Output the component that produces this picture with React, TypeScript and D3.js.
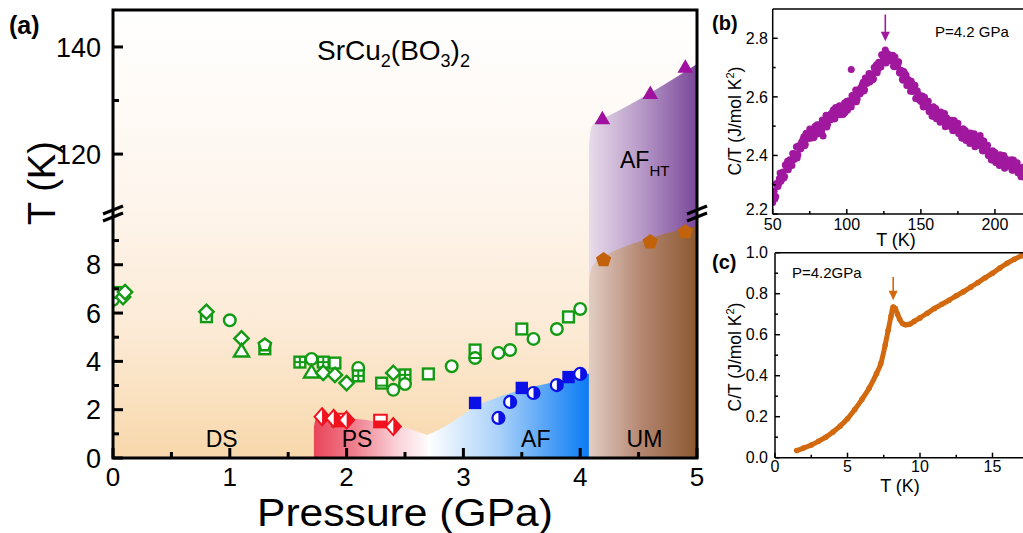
import React from "react";
import * as d3 from "d3";

const FONT = '"Liberation Sans", Arial, Helvetica, sans-serif';

// ================= Panel (a): phase diagram =================
const pressureTicks = [0, 1, 2, 3, 4, 5];
const pressureMinorTicks = [0.5, 1.5, 2.5, 3.5, 4.5];
const lowTTicks = [0, 2, 4, 6, 8];
const lowTMinorTicks = [1, 3, 5, 7, 9];
const highTTicks = [120, 140];
const highTMinorTicks = [130];

// open green symbols
const greenP = [0.0, 0.02, 0.086, 0.103, 0.8, 0.8, 1.0, 1.1, 1.1, 1.3, 1.3, 1.6, 1.7, 1.7, 1.8, 1.9, 1.8, 1.9, 2.0, 2.1, 2.1, 2.3, 2.4, 2.5, 2.4, 2.5, 2.7, 2.9, 3.1, 3.1, 3.3, 3.4, 3.5, 3.6, 3.8, 3.9, 4.0];
const greenT = [6.55, 6.85, 6.66, 6.87, 5.85, 6.05, 5.7, 4.95, 4.43, 4.52, 4.68, 3.97, 4.1, 3.56, 3.97, 3.93, 3.52, 3.44, 3.1, 3.73, 3.4, 3.1, 3.52, 3.44, 2.82, 3.06, 3.48, 3.8, 4.47, 4.14, 4.35, 4.47, 5.34, 4.93, 5.34, 5.84, 6.17];
const greenShape = ["circle", "square", "diamond", "diamond", "square", "diamond", "circle", "diamond", "triangle", "square", "pentagon", "gridsquare", "circle", "triangle", "gridsquare", "square", "diamond", "diamond", "diamond", "circle", "gridsquare", "hsquare", "diamond", "gridsquare", "circle", "circle", "square", "circle", "square", "hcircle", "circle", "circle", "square", "circle", "circle", "square", "circle"];

// blue AF symbols
const blueP = [3.1, 3.3, 3.4, 3.5, 3.6, 3.8, 3.9, 4.0];
const blueT = [2.28, 1.66, 2.32, 2.9, 2.69, 3.02, 3.35, 3.48];
const blueShape = ["square", "halfcircle", "halfcircle", "square", "halfcircle", "halfcircle", "square", "halfcircle"];

// red PS symbols
const redP = [1.93, 1.79, 1.89, 2.0, 2.29, 2.4];
const redT = [1.57, 1.71, 1.64, 1.57, 1.53, 1.3];
const redShape = ["halfsquare", "halfdiamond", "halfdiamond", "halfdiamond", "halfsquare", "halfdiamond"];

// AF_HT (purple triangles, upper T scale) and UM (orange pentagons, lower T scale)
const purpleP = [4.19, 4.6, 4.9];
const purpleT = [126.7, 131.4, 136.3];
const orangeP = [4.2, 4.6, 4.9];
const orangeT = [8.2, 8.94, 9.36];

// phase boundaries
const psTopP = [1.72, 1.735, 1.78, 2.17, 2.46, 2.69];
const psTopT = [1.25, 1.6, 1.72, 1.57, 1.3, 0.95];
const afTopP = [2.69, 2.78, 2.885, 3.0, 3.085, 3.25, 3.48, 3.75, 4.0, 4.075];
const afTopT = [0.95, 1.15, 1.43, 1.8, 2.08, 2.43, 2.8, 3.12, 3.37, 3.5];
const umTopP = [4.075, 4.09, 4.13, 4.2, 4.6, 5.0];
const umTopT = [7.2, 7.75, 8.1, 8.33, 9.1, 9.6];
const afhtTopP = [4.075, 4.09, 4.13, 4.2, 4.6, 5.0];
const afhtTopT = [121.5, 124.5, 126.0, 126.7, 131.4, 136.8];

const regionLabels = ["DS", "PS", "AF", "UM"];
const regionLabelP = [0.93, 2.09, 3.62, 4.55];
const regionLabelT = [0.45, 0.45, 0.45, 0.45];

// ================= Panel (b): C/T vs T at 4.2 GPa (high T) =================
const bTicks = [50, 100, 150, 200];
const bMinorTicks = [75, 125, 175];
const bYTicks = [2.2, 2.4, 2.6, 2.8];
const bYMinorTicks = [2.3, 2.5, 2.7];
// T = 50, 51, ... 220 K
const bValuesA = [
  2.239, 2.278, 2.260, 2.299, 2.303, 2.340, 2.318, 2.343, 2.328, 2.369,
  2.380, 2.362, 2.383, 2.366, 2.405, 2.397, 2.430, 2.402, 2.431, 2.424,
  2.434, 2.464, 2.437, 2.467, 2.462, 2.490, 2.463, 2.483, 2.463, 2.499,
  2.505, 2.484, 2.502, 2.482, 2.518, 2.507, 2.537, 2.506, 2.532, 2.522,
  2.529, 2.556, 2.526, 2.553, 2.545, 2.570, 2.543, 2.563, 2.543, 2.579,
  2.585, 2.565, 2.584, 2.565, 2.602, 2.592, 2.623, 2.593, 2.620, 2.611,
  2.619, 2.650, 2.624, 2.655, 2.651, 2.680, 2.656, 2.679, 2.662, 2.701,
  2.710, 2.694, 2.717, 2.702, 2.743, 2.737, 2.760, 2.722, 2.741, 2.724,
  2.724, 2.742, 2.703, 2.721, 2.704, 2.720, 2.681, 2.689, 2.657, 2.681,
  2.675, 2.643, 2.650, 2.619, 2.644, 2.622, 2.640, 2.597, 2.611, 2.589,
  2.584, 2.603, 2.565, 2.584, 2.568, 2.585, 2.550, 2.562, 2.534, 2.562,
  2.560, 2.531, 2.541, 2.513, 2.541, 2.522, 2.543, 2.503, 2.520, 2.501,
  2.499, 2.520, 2.484, 2.505, 2.491, 2.510, 2.475, 2.487, 2.459, 2.487,
  2.485, 2.457, 2.468, 2.441, 2.470, 2.452, 2.474, 2.435, 2.453, 2.435,
  2.434, 2.453, 2.415, 2.434, 2.418, 2.435, 2.400, 2.412, 2.384, 2.412,
  2.410, 2.382, 2.393, 2.366, 2.395, 2.377, 2.400, 2.362, 2.381, 2.364,
  2.364, 2.385, 2.349, 2.370, 2.356, 2.375, 2.341, 2.354, 2.327, 2.356,
  2.355,
];
// T = 50.5, 51.5, ... 219.5 K
const bValuesB = [
  2.265, 2.252, 2.304, 2.294, 2.321, 2.312, 2.337, 2.323, 2.367, 2.354,
  2.351, 2.385, 2.378, 2.407, 2.386, 2.406, 2.391, 2.433, 2.422, 2.446,
  2.455, 2.433, 2.476, 2.457, 2.475, 2.459, 2.479, 2.460, 2.499, 2.481,
  2.474, 2.505, 2.495, 2.521, 2.497, 2.515, 2.497, 2.536, 2.522, 2.543,
  2.549, 2.524, 2.564, 2.542, 2.557, 2.539, 2.559, 2.540, 2.579, 2.561,
  2.555, 2.587, 2.578, 2.605, 2.582, 2.600, 2.583, 2.623, 2.610, 2.632,
  2.641, 2.620, 2.664, 2.646, 2.665, 2.651, 2.674, 2.658, 2.700, 2.685,
  2.682, 2.718, 2.713, 2.744, 2.725, 2.741, 2.716, 2.748, 2.727, 2.741,
  2.739, 2.705, 2.736, 2.705, 2.711, 2.683, 2.691, 2.660, 2.687, 2.657,
  2.639, 2.659, 2.638, 2.653, 2.618, 2.624, 2.594, 2.621, 2.595, 2.604,
  2.600, 2.567, 2.599, 2.569, 2.576, 2.550, 2.562, 2.535, 2.566, 2.540,
  2.525, 2.548, 2.530, 2.548, 2.516, 2.525, 2.498, 2.528, 2.505, 2.517,
  2.516, 2.485, 2.519, 2.491, 2.500, 2.475, 2.487, 2.460, 2.491, 2.465,
  2.451, 2.475, 2.458, 2.477, 2.446, 2.456, 2.430, 2.461, 2.439, 2.452,
  2.450, 2.417, 2.449, 2.419, 2.426, 2.400, 2.412, 2.385, 2.416, 2.390,
  2.376, 2.400, 2.383, 2.402, 2.371, 2.381, 2.356, 2.388, 2.367, 2.381,
  2.381, 2.350, 2.384, 2.356, 2.365, 2.341, 2.354, 2.328, 2.360, 2.335,
];
const bOutlierT = [103, 99, 84, 190];
const bOutlierV = [2.693, 2.548, 2.466, 2.468];
const bPeakT = 126;

// ================= Panel (c): C/T vs T at 4.2 GPa (low T) =================
const cTicks = [0, 5, 10, 15];
const cMinorTicks = [2.5, 7.5, 12.5, 17.5];
const cYTicks = [0.0, 0.2, 0.4, 0.6, 0.8, 1.0];
const cYMinorTicks = [0.1, 0.3, 0.5, 0.7, 0.9];
const cTemps = [1.5, 2.0, 2.5, 3.0, 3.5, 4.0, 4.5, 5.0, 5.5, 6.0, 6.5, 7.0, 7.3, 7.6, 7.8, 8.0, 8.15, 8.3, 8.45, 8.6, 8.8, 9.0, 9.3, 9.6, 10.0, 10.5, 11.0, 11.5, 12.0, 12.5, 13.0, 13.5, 14.0, 14.5, 15.0, 15.5, 16.0, 16.5, 17.0, 17.5];
const cValues = [0.035, 0.048, 0.062, 0.08, 0.1, 0.125, 0.155, 0.19, 0.235, 0.285, 0.34, 0.41, 0.46, 0.55, 0.62, 0.69, 0.735, 0.728, 0.7, 0.675, 0.655, 0.648, 0.652, 0.665, 0.682, 0.705, 0.728, 0.748, 0.768, 0.79, 0.81, 0.832, 0.855, 0.878, 0.9, 0.925, 0.948, 0.968, 0.985, 1.0];
const cPeakT = 8.15;

const GREEN = "#139a13";
const BLUE = "#0a10e6";
const RED = "#f0121e";
const PURPLE_MK = "#a0119f";
const ORANGE_MK = "#c2620a";
const B_DOT = "#a0189e";
const C_LINE = "#d2690f";

function greenMarker(shape: string, cx: number, cy: number, key: string) {
  const sw = 2.4;
  const common = { fill: "#ffffff", stroke: GREEN, strokeWidth: sw } as any;
  const s = 5.4;
  if (shape === "circle") return <circle key={key} cx={cx} cy={cy} r={5.8} {...common} />;
  if (shape === "hcircle")
    return (
      <g key={key}>
        <circle cx={cx} cy={cy} r={5.8} {...common} />
        <line x1={cx - 5.8} x2={cx + 5.8} y1={cy} y2={cy} stroke={GREEN} strokeWidth={2} />
      </g>
    );
  if (shape === "square") return <rect key={key} x={cx - s} y={cy - s} width={2 * s} height={2 * s} {...common} />;
  if (shape === "gridsquare")
    return (
      <g key={key}>
        <rect x={cx - s} y={cy - s} width={2 * s} height={2 * s} {...common} />
        <line x1={cx} x2={cx} y1={cy - s} y2={cy + s} stroke={GREEN} strokeWidth={2} />
        <line x1={cx - s} x2={cx + s} y1={cy} y2={cy} stroke={GREEN} strokeWidth={2} />
      </g>
    );
  if (shape === "hsquare")
    return (
      <g key={key}>
        <rect x={cx - s} y={cy - s} width={2 * s} height={2 * s} {...common} />
        <line x1={cx - s} x2={cx + s} y1={cy + 2.5} y2={cy + 2.5} stroke={GREEN} strokeWidth={2} />
      </g>
    );
  if (shape === "diamond") {
    const d = 7.2;
    return <path key={key} d={`M${cx},${cy - d}L${cx + d},${cy}L${cx},${cy + d}L${cx - d},${cy}Z`} {...common} />;
  }
  if (shape === "triangle")
    return <path key={key} d={`M${cx},${cy - 7}L${cx + 7.5},${cy + 5.5}L${cx - 7.5},${cy + 5.5}Z`} {...common} />;
  if (shape === "pentagon") {
    const pts = d3.range(5).map((k) => {
      const a = -Math.PI / 2 + (k * 2 * Math.PI) / 5;
      return `${cx + 6.5 * Math.cos(a)},${cy + 6.5 * Math.sin(a)}`;
    });
    return <path key={key} d={`M${pts.join("L")}Z`} {...common} />;
  }
  return null;
}

function blueMarker(shape: string, cx: number, cy: number, key: string) {
  if (shape === "square") return <rect key={key} x={cx - 6.2} y={cy - 6.2} width={12.4} height={12.4} fill={BLUE} />;
  const r = 6;
  return (
    <g key={key}>
      <circle cx={cx} cy={cy} r={r} fill="#ffffff" stroke={BLUE} strokeWidth={2.2} />
      <path d={`M${cx},${cy - r}A${r},${r} 0 0 1 ${cx},${cy + r}Z`} fill={BLUE} />
    </g>
  );
}

function redMarker(shape: string, cx: number, cy: number, key: string) {
  if (shape === "halfsquare") {
    const s = 6.3;
    return (
      <g key={key}>
        <rect x={cx - s} y={cy - s} width={2 * s} height={2 * s} fill="#ffffff" stroke={RED} strokeWidth={2} />
        <rect x={cx - s} y={cy - 0.5} width={2 * s} height={s + 0.5} fill={RED} />
      </g>
    );
  }
  const w = 7.5, h = 8.5;
  return (
    <g key={key}>
      <path d={`M${cx},${cy - h}L${cx + w},${cy}L${cx},${cy + h}L${cx - w},${cy}Z`} fill="#ffffff" stroke={RED} strokeWidth={2} />
      <path d={`M${cx},${cy - h}L${cx + w},${cy}L${cx},${cy + h}Z`} fill={RED} />
    </g>
  );
}

export default function App() {
  const W = 1023, H = 533;
  // --- Panel (a) scales ---
  const xA = d3.scaleLinear().domain([0, 5]).range([113, 697]);
  const yLo = d3.scaleLinear().domain([0, 10.1]).range([458, 214]);
  const yHi = d3.scaleLinear().domain([109, 146.9]).range([213, 10]);
  const pL = 113, pR = 697, pT = 10, pB = 458;
  const yBreak = (yHi(109) + yLo(10.1)) / 2;

  const topLine = d3.line<[number, number]>().curve(d3.curveMonotoneX);
  function regionPath(ps: number[], ts: number[], yTop: (v: number) => number) {
    const pts = ps.map((p, i) => [xA(p), yTop(ts[i])] as [number, number]);
    const c = (topLine(pts) || "").replace(/^M[^A-Za-z]*/, "");
    const x0 = pts[0][0], x1 = pts[pts.length - 1][0];
    return `M${x0},${yLo(0)}L${pts[0][0]},${pts[0][1]}${c}L${x1},${yLo(0)}Z`;
  }

  // --- Panel (b) scales ---
  const xB = d3.scaleLinear().domain([50, 220]).range([772.7, 1024.6]);
  const yB = d3.scaleLinear().domain([2.2, 2.9]).range([214, 9]);
  // --- Panel (c) scales ---
  const xC = d3.scaleLinear().domain([0, 17.5]).range([775, 1028.75]);
  const yC = d3.scaleLinear().domain([0, 1]).range([457.7, 252.7]);
  const cLine = d3.line<number>().x((_, i) => xC(cTemps[i])).y((v) => yC(v)).curve(d3.curveMonotoneX);

  const axisW = 3;
  const tickStyle = { stroke: "#000", strokeWidth: axisW } as any;
  const dotR = 3.5;

  return (
    <svg width={W} height={H} viewBox={`0 0 ${W} ${H}`} style={{ display: "block", position: "absolute", left: 0, top: 0, background: "#fff" }} fontFamily={FONT}>
      <defs>
        <linearGradient id="bgA" x1="0" y1={pT} x2="0" y2={pB} gradientUnits="userSpaceOnUse">
          <stop offset="0" stopColor="#ffffff" />
          <stop offset="0.4" stopColor="#fef6ee" />
          <stop offset="0.72" stopColor="#fcead5" />
          <stop offset="1" stopColor="#f8d8ab" />
        </linearGradient>
        <linearGradient id="gPS" x1={xA(1.72)} y1="0" x2={xA(2.72)} y2="0" gradientUnits="userSpaceOnUse">
          <stop offset="0" stopColor="#e9455a" />
          <stop offset="0.35" stopColor="#f07f8e" />
          <stop offset="0.7" stopColor="#f9cfd6" />
          <stop offset="1" stopColor="#ffffff" />
        </linearGradient>
        <linearGradient id="gAF" x1={xA(2.69)} y1="0" x2={xA(4.075)} y2="0" gradientUnits="userSpaceOnUse">
          <stop offset="0" stopColor="#ffffff" />
          <stop offset="0.45" stopColor="#a8d0f9" />
          <stop offset="1" stopColor="#0a7bf4" />
        </linearGradient>
        <linearGradient id="gUM" x1={xA(4.075)} y1="0" x2={xA(5)} y2="0" gradientUnits="userSpaceOnUse">
          <stop offset="0" stopColor="#e2cdc4" />
          <stop offset="0.5" stopColor="#b3856f" />
          <stop offset="1" stopColor="#8b5830" />
        </linearGradient>
        <linearGradient id="gHT" x1={xA(4.075)} y1="0" x2={xA(5)} y2="0" gradientUnits="userSpaceOnUse">
          <stop offset="0" stopColor="#e8dcea" />
          <stop offset="0.5" stopColor="#b597c6" />
          <stop offset="1" stopColor="#7a4799" />
        </linearGradient>
        <clipPath id="clipA">
          <rect x={pL} y={pT} width={pR - pL} height={pB - pT} />
        </clipPath>
        <clipPath id="clipB">
          <rect x={xB(50)} y={yB(2.9)} width={W - xB(50)} height={yB(2.2) - yB(2.9)} />
        </clipPath>
        <clipPath id="clipC">
          <rect x={xC(0)} y={yC(1)} width={W - xC(0)} height={yC(0) - yC(1)} />
        </clipPath>
      </defs>

      {/* ============ Panel (a) ============ */}
      <rect x={pL} y={pT} width={pR - pL} height={pB - pT} fill="url(#bgA)" />
      <g clipPath="url(#clipA)">
        <path d={regionPath(psTopP, psTopT, yLo)} fill="url(#gPS)" />
        <path d={regionPath(afTopP, afTopT, yLo)} fill="url(#gAF)" />
        <path d={regionPath(afhtTopP, afhtTopT, yHi)} fill="url(#gHT)" />
        <path d={regionPath(umTopP, umTopT, yLo)} fill="url(#gUM)" />

        {greenP.map((p, i) => greenMarker(greenShape[i], xA(p), yLo(greenT[i]), `g${i}`))}
        {blueP.map((p, i) => blueMarker(blueShape[i], xA(p), yLo(blueT[i]), `b${i}`))}
        {redP.map((p, i) => redMarker(redShape[i], xA(p), yLo(redT[i]), `r${i}`))}
        {purpleP.map((p, i) => {
          const cx = xA(p), cy = yHi(purpleT[i]);
          return <path key={`pt${i}`} d={`M${cx},${cy - 7.5}L${cx + 7.8},${cy + 6}L${cx - 7.8},${cy + 6}Z`} fill={PURPLE_MK} />;
        })}
        {orangeP.map((p, i) => {
          const cx = xA(p), cy = yLo(orangeT[i]);
          const pts = d3.range(5).map((k) => {
            const a = -Math.PI / 2 + (k * 2 * Math.PI) / 5;
            return `${cx + 8 * Math.cos(a)},${cy + 8 * Math.sin(a)}`;
          });
          return <path key={`pg${i}`} d={`M${pts.join("L")}Z`} fill={ORANGE_MK} />;
        })}
      </g>

      {/* region labels */}
      {regionLabels.map((t, i) => (
        <text key={t} x={xA(regionLabelP[i])} y={yLo(regionLabelT[i])} fontSize={23} textAnchor="middle" fill="#000">{t}</text>
      ))}
      <text x={620} y={168} fontSize={23} fill="#000">AF<tspan fontSize={15} dy={8}>HT</tspan></text>
      <text x={317} y={60} fontSize={28} fill="#000">
        SrCu<tspan fontSize={18} dy={7}>2</tspan><tspan dy={-7}>(BO</tspan><tspan fontSize={18} dy={7}>3</tspan><tspan dy={-7}>)</tspan><tspan fontSize={18} dy={7}>2</tspan>
      </text>

      {/* frame */}
      <rect x={pL} y={pT} width={pR - pL} height={pB - pT} fill="none" stroke="#000" strokeWidth={axisW} />

      {/* x ticks */}
      {pressureTicks.map((v) => (
        <g key={`xt${v}`}>
          <line x1={xA(v)} x2={xA(v)} y1={pB} y2={pB - 10} {...tickStyle} />
          <text x={xA(v)} y={485.5} fontSize={26} textAnchor="middle">{v}</text>
        </g>
      ))}
      {pressureMinorTicks.map((v) => (
        <line key={`xm${v}`} x1={xA(v)} x2={xA(v)} y1={pB} y2={pB - 6} {...tickStyle} />
      ))}
      {/* y ticks lower */}
      {lowTTicks.map((v) => (
        <g key={`yl${v}`}>
          <line x1={pL} x2={pL + 10} y1={yLo(v)} y2={yLo(v)} {...tickStyle} />
          <text x={101} y={yLo(v)} dy="0.36em" fontSize={27} textAnchor="end">{v}</text>
        </g>
      ))}
      {lowTMinorTicks.map((v) => (
        <line key={`ylm${v}`} x1={pL} x2={pL + 6} y1={yLo(v)} y2={yLo(v)} {...tickStyle} />
      ))}
      {highTTicks.map((v) => (
        <g key={`yh${v}`}>
          <line x1={pL} x2={pL + 10} y1={yHi(v)} y2={yHi(v)} {...tickStyle} />
          <text x={101} y={yHi(v)} dy="0.36em" fontSize={27} textAnchor="end">{v}</text>
        </g>
      ))}
      {highTMinorTicks.map((v) => (
        <line key={`yhm${v}`} x1={pL} x2={pL + 6} y1={yHi(v)} y2={yHi(v)} {...tickStyle} />
      ))}
      {/* axis breaks */}
      {[pL, pR].map((x) => (
        <g key={`br${x}`}>
          <line x1={x - 10} y1={yBreak - 3.5 + 4} x2={x + 10} y2={yBreak - 3.5 - 4} stroke="#000" strokeWidth={3} />
          <line x1={x - 10} y1={yBreak + 3.5 + 4} x2={x + 10} y2={yBreak + 3.5 - 4} stroke="#000" strokeWidth={3} />
        </g>
      ))}
      {/* axis titles */}
      <text x={405} y={525.5} fontSize={38} textAnchor="middle" textLength={296} lengthAdjust="spacingAndGlyphs">Pressure (GPa)</text>
      <text transform={`translate(55,183) rotate(-90)`} fontSize={38} textAnchor="middle">T (K)</text>
      <text x={9} y={34} fontSize={25} fontWeight="bold">(a)</text>

      {/* ============ Panel (b) ============ */}
      <g clipPath="url(#clipB)">
        {bValuesA.map((v, i) => (
          <circle key={`ba${i}`} cx={xB(50 + i)} cy={yB(v)} r={dotR} fill={B_DOT} />
        ))}
        {bValuesB.map((v, i) => (
          <circle key={`bb${i}`} cx={xB(50.5 + i)} cy={yB(v)} r={dotR} fill={B_DOT} />
        ))}
        {bOutlierT.map((t, i) => (
          <circle key={`bo${i}`} cx={xB(t)} cy={yB(bOutlierV[i])} r={dotR} fill={B_DOT} />
        ))}
      </g>
      <line x1={xB(50)} x2={xB(50)} y1={yB(2.9)} y2={yB(2.2)} stroke="#000" strokeWidth={1.5} />
      <line x1={xB(50)} x2={W} y1={yB(2.2)} y2={yB(2.2)} stroke="#000" strokeWidth={1.5} />
      <line x1={xB(50)} x2={W} y1={yB(2.9)} y2={yB(2.9)} stroke="#000" strokeWidth={1.5} />
      {bTicks.map((v) => (
        <g key={`bt${v}`}>
          <line x1={xB(v)} x2={xB(v)} y1={yB(2.2)} y2={yB(2.2) - 5} stroke="#000" strokeWidth={1.5} />
          <text x={xB(v)} y={230} fontSize={16} textAnchor="middle">{v}</text>
        </g>
      ))}
      {bMinorTicks.map((v) => (
        <line key={`btm${v}`} x1={xB(v)} x2={xB(v)} y1={yB(2.2)} y2={yB(2.2) - 3} stroke="#000" strokeWidth={1.5} />
      ))}
      {bYTicks.map((v) => (
        <g key={`by${v}`}>
          <line x1={xB(50)} x2={xB(50) + 5} y1={yB(v)} y2={yB(v)} stroke="#000" strokeWidth={1.5} />
          <text x={768} y={yB(v) - (v === 2.2 ? 5 : 0)} dy="0.36em" fontSize={16} textAnchor="end">{v.toFixed(1)}</text>
        </g>
      ))}
      {bYMinorTicks.map((v) => (
        <line key={`bym${v}`} x1={xB(50)} x2={xB(50) + 3} y1={yB(v)} y2={yB(v)} stroke="#000" strokeWidth={1.5} />
      ))}
      <line x1={xB(bPeakT)} x2={xB(bPeakT)} y1={yB(2.881)} y2={yB(2.81)} stroke={B_DOT} strokeWidth={1.6} />
      <path d={`M${xB(bPeakT) - 4.5},${yB(2.822)}L${xB(bPeakT) + 4.5},${yB(2.822)}L${xB(bPeakT)},${yB(2.79)}Z`} fill={B_DOT} />
      <text x={935} y={37} fontSize={15}>P=4.2 GPa</text>
      <text x={896} y={246} fontSize={18} textAnchor="middle">T (K)</text>
      <text transform={`translate(741,121) rotate(-90)`} fontSize={17.5} textAnchor="middle">
        C/T (J/mol K<tspan fontSize={11} dy={-7}>2</tspan><tspan dy={7}>)</tspan>
      </text>
      <text x={712} y={30} fontSize={20} fontWeight="bold">(b)</text>

      {/* ============ Panel (c) ============ */}
      <g clipPath="url(#clipC)">
        <path d={cLine(cValues) || ""} fill="none" stroke={C_LINE} strokeWidth={5} strokeLinecap="round" strokeLinejoin="round" />
        {cValues.map((v, i) => (
          <circle key={`cd${i}`} cx={xC(cTemps[i])} cy={yC(v)} r={2.8} fill={C_LINE} />
        ))}
      </g>
      <line x1={xC(0)} x2={xC(0)} y1={yC(1)} y2={yC(0)} stroke="#000" strokeWidth={1.5} />
      <line x1={xC(0)} x2={W} y1={yC(0)} y2={yC(0)} stroke="#000" strokeWidth={1.5} />
      <line x1={xC(0)} x2={W} y1={yC(1)} y2={yC(1)} stroke="#000" strokeWidth={1.5} />
      {cTicks.map((v) => (
        <g key={`ct${v}`}>
          <line x1={xC(v)} x2={xC(v)} y1={yC(0)} y2={yC(0) - 5} stroke="#000" strokeWidth={1.5} />
          <text x={xC(v)} y={472} fontSize={16} textAnchor="middle">{v}</text>
        </g>
      ))}
      {cMinorTicks.map((v) => (
        <line key={`ctm${v}`} x1={xC(v)} x2={xC(v)} y1={yC(0)} y2={yC(0) - 3} stroke="#000" strokeWidth={1.5} />
      ))}
      {cYTicks.map((v) => (
        <g key={`cy${v}`}>
          <line x1={xC(0)} x2={xC(0) + 5} y1={yC(v)} y2={yC(v)} stroke="#000" strokeWidth={1.5} />
          <text x={768} y={yC(v)} dy="0.36em" fontSize={16} textAnchor="end">{v.toFixed(1)}</text>
        </g>
      ))}
      {cYMinorTicks.map((v) => (
        <line key={`cym${v}`} x1={xC(0)} x2={xC(0) + 3} y1={yC(v)} y2={yC(v)} stroke="#000" strokeWidth={1.5} />
      ))}
      <line x1={xC(cPeakT)} x2={xC(cPeakT)} y1={yC(0.881)} y2={yC(0.8)} stroke={C_LINE} strokeWidth={1.6} />
      <path d={`M${xC(cPeakT) - 4.5},${yC(0.815)}L${xC(cPeakT) + 4.5},${yC(0.815)}L${xC(cPeakT)},${yC(0.768)}Z`} fill={C_LINE} />
      <text x={792} y={278} fontSize={15}>P=4.2GPa</text>
      <text x={900} y={492} fontSize={18} textAnchor="middle">T (K)</text>
      <text transform={`translate(741,357) rotate(-90)`} fontSize={17.5} textAnchor="middle">
        C/T (J/mol K<tspan fontSize={11} dy={-7}>2</tspan><tspan dy={7}>)</tspan>
      </text>
      <text x={712} y={269} fontSize={20} fontWeight="bold">(c)</text>
    </svg>
  );
}
